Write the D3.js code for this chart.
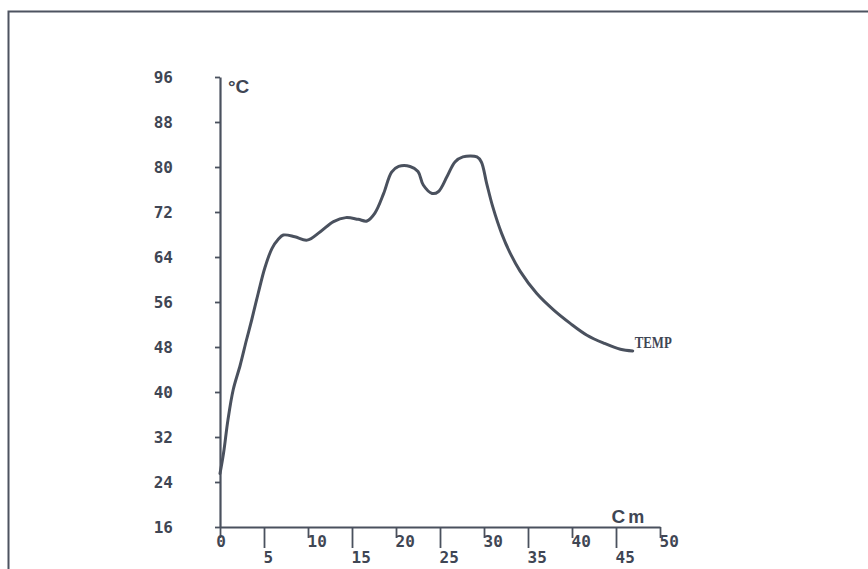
<!DOCTYPE html>
<html>
<head>
<meta charset="utf-8">
<script src="https://cdn.jsdelivr.net/npm/d3@7"></script>
<style>
    body { margin: 0; background: #fff; }
    svg { display: block; }
    .lbl { font-family: "DejaVu Sans Mono", monospace; font-weight: bold; font-size: 16px; fill: #3f4654; }
</style>
</head>
<body>
<div id="chart"></div>
<script>
// temperature profile along the piece
var cm_values = [0, 0.4, 0.9, 1.5, 2.3, 3.0, 3.6, 4.35, 5.1, 5.9, 6.6, 7.2, 8.5, 9.9,
                 11.4, 12.9, 14.3, 15.7, 16.7, 17.6, 18.6, 19.5, 20.3, 21.6, 22.5, 23.1,
                 24.1, 24.8, 25.8, 26.7, 27.6, 29.2, 29.7, 30.3, 31.0, 32.0, 33.0,
                 34.1, 36.0, 37.9, 39.8, 41.7, 43.6, 45.5, 46.9];
var temp_values = [25.5, 29.1, 35.0, 40.4, 44.8, 49.2, 52.8, 57.6, 62.1, 65.5, 67.1, 67.9, 67.6, 67.0,
                   68.5, 70.3, 71.0, 70.7, 70.4, 71.8, 75.3, 79.1, 80.1, 80.1, 79.2, 76.8,
                   75.3, 75.6, 78.3, 80.9, 81.8, 81.8, 80.9, 77.1, 72.9, 68.2, 64.6,
                   61.5, 57.5, 54.6, 52.2, 50.1, 48.7, 47.6, 47.3];

var y_ticks = [16, 24, 32, 40, 48, 56, 64, 72, 80, 88, 96],
    x_ticks = [0, 5, 10, 15, 20, 25, 30, 35, 40, 45, 50];

var series_name = "TEMP",
    y_unit = "°C";

var width = 868,
    height = 569,
    ink = "#4a515e";

var svg = d3.select("#chart").append("svg")
    .attr("width", width)
    .attr("height", height);

// frame of the page, only left and top show
svg.append("rect")
    .attr("x", 8.5).attr("y", 11.5)
    .attr("width", 900).attr("height", 600)
    .attr("fill", "none")
    .attr("stroke", "#4d5360")
    .attr("stroke-width", 2);

var x = d3.scaleLinear().domain([0, 50]).range([220, 660]),
    y = d3.scaleLinear().domain([16, 96]).range([527, 77]);

// y axis
var y_axis = svg.append("g")
    .attr("transform", "translate(" + x(0) + ",0)")
    .call(d3.axisLeft(y).tickValues(y_ticks).tickSize(5).tickSizeOuter(0).tickPadding(42));

y_axis.select(".domain").attr("stroke", ink).attr("stroke-width", 2.2);
y_axis.selectAll(".tick line").attr("stroke", ink).attr("stroke-width", 1.8);
y_axis.selectAll(".tick text").attr("class", "lbl").attr("fill", null);
y_axis.attr("font-family", null).attr("font-size", null);

// x axis, odd ticks hang lower with their labels
var x_axis = svg.append("g")
    .attr("transform", "translate(0," + y(16) + ")")
    .call(d3.axisBottom(x).tickValues(x_ticks).tickSizeOuter(0));

x_axis.select(".domain").attr("stroke", ink).attr("stroke-width", 2.2);
x_axis.selectAll(".tick line")
    .attr("stroke", ink).attr("stroke-width", 1.8)
    .attr("y2", d => d % 10 ? 21 : 11);
x_axis.selectAll(".tick text")
    .attr("class", "lbl").attr("fill", null)
    .attr("dy", null)
    .attr("x", d => d === 0 ? 0.5 : -1)
    .attr("y", d => d % 10 ? 36 : 20)
    .attr("text-anchor", d => d === 0 ? "middle" : "start");
x_axis.attr("font-family", null).attr("font-size", null);

// unit labels
svg.append("text")
    .attr("x", x(0) + 8).attr("y", y(96) + 16)
    .style("font-family", "Liberation Sans, Arial, sans-serif")
    .style("font-weight", "bold").style("font-size", "19px")
    .attr("fill", "#3f4654")
    .text(y_unit);

var cm_label = svg.append("text")
    .attr("x", x(44.5)).attr("y", y(16) - 4)
    .style("font-family", "Liberation Sans, Arial, sans-serif")
    .style("font-weight", "bold")
    .attr("fill", "#3f4654");
cm_label.append("tspan").style("font-size", "19px").text("C");
cm_label.append("tspan").attr("dx", 3).style("font-size", "18px").text("m");

// the curve
var points = cm_values.map((d, i) => ({cm: d, temp: temp_values[i]}));

var line = d3.line()
    .x(d => x(d.cm))
    .y(d => y(d.temp))
    .curve(d3.curveCatmullRom.alpha(0.5));

svg.append("path")
    .datum(points)
    .attr("d", line)
    .attr("fill", "none")
    .attr("stroke", ink)
    .attr("stroke-width", 3)
    .attr("stroke-linejoin", "round")
    .attr("stroke-linecap", "round");

var last = points[points.length - 1];
svg.append("text")
    .attr("x", x(last.cm) + 2).attr("y", y(last.temp) - 3)
    .attr("textLength", 37)
    .attr("lengthAdjust", "spacingAndGlyphs")
    .style("font-family", "Liberation Serif, serif")
    .style("font-weight", "bold").style("font-size", "16px")
    .attr("fill", "#3f4654")
    .text(series_name);
</script>
</body>
</html>
